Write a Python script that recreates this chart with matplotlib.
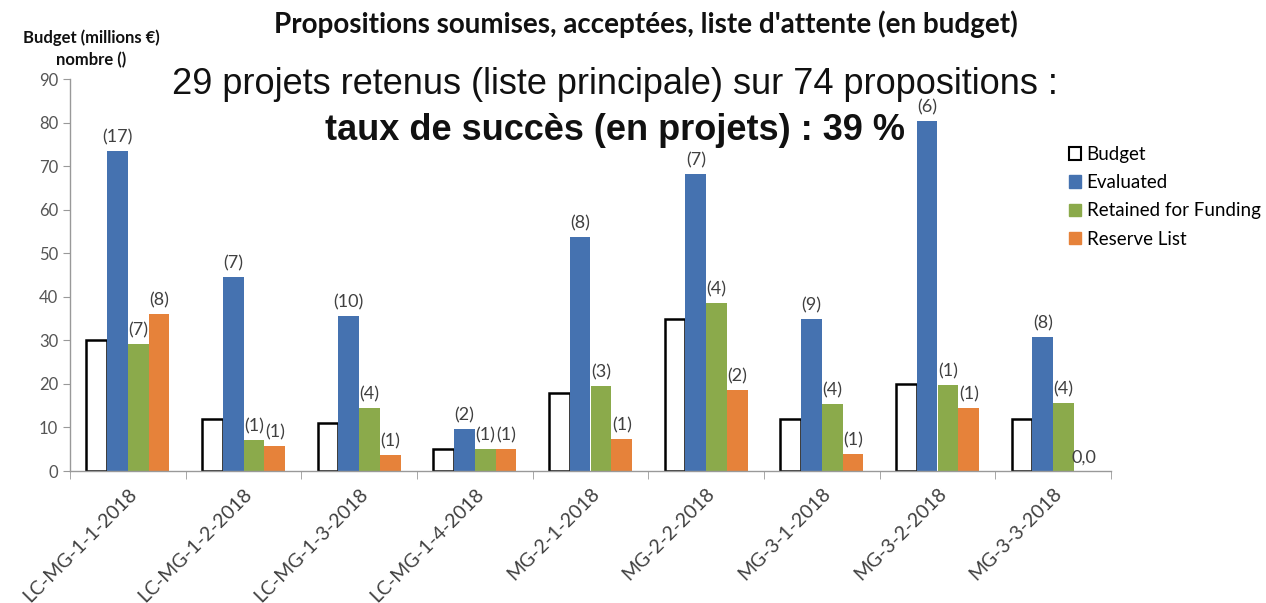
import numpy as np
import matplotlib.pyplot as plt
from matplotlib.patches import Patch

# Data
calls = ['LC-MG-1-1-2018', 'LC-MG-1-2-2018', 'LC-MG-1-3-2018', 'LC-MG-1-4-2018',
         'MG-2-1-2018', 'MG-2-2-2018', 'MG-3-1-2018', 'MG-3-2-2018', 'MG-3-3-2018']
budget = [30, 12, 11, 5, 18, 35, 12, 20, 12]
evaluated = [73.5, 44.5, 35.7, 9.6, 53.8, 68.3, 34.8, 80.3, 30.7]
retained = [29.1, 7.1, 14.5, 5.0, 19.6, 38.6, 15.3, 19.8, 15.7]
reserve = [36.0, 5.8, 3.7, 5.0, 7.3, 18.6, 4.0, 14.4, 0.0]
n_evaluated = ['(17)', '(7)', '(10)', '(2)', '(8)', '(7)', '(9)', '(6)', '(8)']
n_retained = ['(7)', '(1)', '(4)', '(1)', '(3)', '(4)', '(4)', '(1)', '(4)']
n_reserve = ['(8)', '(1)', '(1)', '(1)', '(1)', '(2)', '(1)', '(1)', '0,0']

CAL = ['Lato', 'DejaVu Sans']
ARIAL = ['Liberation Sans', 'DejaVu Sans']
blue = '#4572B0'
green = '#8BAA4B'
orange = '#E6823A'
grey_txt = '#404040'

fig = plt.figure(figsize=(12.66, 6.03), dpi=100)
ax = fig.add_axes([70 / 1266, 1 - 471 / 603, (1111 - 70) / 1266, (471 - 79) / 603])

x = np.arange(len(calls))
w = 0.18

ax.bar(x - 1.5 * w, budget, w, facecolor='white', edgecolor='black', linewidth=1.8)
b_eval = ax.bar(x - 0.5 * w, evaluated, w, color=blue)
b_ret = ax.bar(x + 0.5 * w, retained, w, color=green)
b_res = ax.bar(x + 1.5 * w, reserve, w, color=orange)

for bars, labels in [(b_eval, n_evaluated), (b_ret, n_retained), (b_res, n_reserve)]:
    ax.bar_label(bars, labels=labels, padding=4, fontsize=13, color=grey_txt, family=CAL)

ax.set_xlim(-0.5, len(calls) - 0.5)
ax.set_ylim(0, 90)
ax.set_yticks(range(0, 91, 10))
ax.set_xticks(x)
ax.set_xticklabels(calls, rotation=45, ha='right', va='top', rotation_mode='anchor',
                   fontsize=14, color=grey_txt, family=CAL)
ax.set_xticks(np.arange(-0.5, len(calls)), minor=True)
ax.tick_params(axis='x', which='major', length=0, pad=10)
ax.tick_params(axis='x', which='minor', length=6, color='#999999', direction='out')
ax.tick_params(axis='y', length=5, color='#999999', labelsize=12, labelcolor='#555555')
for lab in ax.get_yticklabels():
    lab.set_family(CAL)

for s in ['top', 'right']:
    ax.spines[s].set_visible(False)
for s in ['left', 'bottom']:
    ax.spines[s].set_color('#999999')
    ax.spines[s].set_linewidth(1)

# Legend
handles = [Patch(facecolor='white', edgecolor='black', linewidth=1.5, label='Budget'),
           Patch(color=blue, label='Evaluated'),
           Patch(color=green, label='Retained for Funding'),
           Patch(color=orange, label='Reserve List')]
fig.legend(handles=handles, loc='upper left', bbox_to_anchor=(1052 / 1266, 1 - 129 / 603),
           frameon=False, prop={'family': CAL, 'size': 13.5}, handlelength=0.65,
           handleheight=0.65, handletextpad=0.3, labelspacing=0.6)

# Titles and annotations
fig.text(646 / 1266, 1 - 24 / 603, "Propositions soumises, acceptées, liste d'attente (en budget)",
         ha='center', va='center', fontsize=20, fontweight='bold', family=CAL, color='#111111')
fig.text(91 / 1266, 1 - 38 / 603, 'Budget (millions €)', ha='center', va='center',
         fontsize=12, fontweight='bold', family=CAL, color='#111111')
fig.text(91 / 1266, 1 - 60 / 603, 'nombre ()', ha='center', va='center',
         fontsize=12, fontweight='bold', family=CAL, color='#111111')
fig.text(615 / 1266, 1 - 84 / 603, '29 projets retenus (liste principale) sur 74 propositions :',
         ha='center', va='center', fontsize=26, family=ARIAL, color='#111111')
fig.text(615 / 1266, 1 - 130 / 603, 'taux de succès (en projets) : 39 %',
         ha='center', va='center', fontsize=26, fontweight='bold', family=ARIAL, color='#111111')

fig.savefig('out.png', dpi=100)
